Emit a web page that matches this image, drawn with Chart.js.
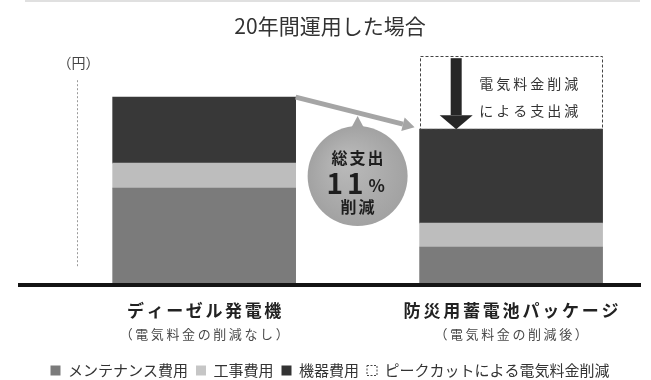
<!DOCTYPE html>
<html lang="ja">
<head>
<meta charset="utf-8">
<script src="https://cdn.jsdelivr.net/npm/chart.js@4"></script>
<style>
  html, body { margin: 0; padding: 0; background: #ffffff; }
  canvas { display: block; }
</style>
</head>
<body>
<canvas id="chart" width="651" height="380"></canvas>
<script>
// 20年間のコスト比較（概念図・単位は任意）
const categories = ['ディーゼル発電機', '防災用蓄電池パッケージ'];
const subLabels = ['（電気料金の削減なし）', '（電気料金の削減後）'];
const seriesNames = ['メンテナンス費用', '工事費用', '機器費用', 'ピークカットによる電気料金削減'];
const maintenance = [97, 38];
const construction = [25, 24];
const equipment = [66, 94];
const peakCut = [0, 73];

const FONT = '"Noto Sans CJK JP", "Noto Sans", sans-serif';
Chart.defaults.font.family = FONT;
Chart.defaults.color = '#333';

const colors = ['#7b7b7b', '#bdbdbd', '#383838', 'rgba(255,255,255,0)'];
const legendFill = ['#7b7b7b', '#c6c6c6', '#333333', '#ffffff'];

const toPoints = arr => arr.map((v, i) => ({ x: i, y: v }));
const seriesData = [maintenance, construction, equipment, peakCut];

function spacedText(ctx, text, x, y, spacing) {
  ctx.letterSpacing = spacing + 'px';
  ctx.fillText(text, x + spacing / 2, y);
  ctx.letterSpacing = '0px';
}

const decor = {
  id: 'decor',
  beforeDraw(chart) {
    const { ctx } = chart;
    ctx.save();
    ctx.strokeStyle = '#d6d6d6';
    ctx.lineWidth = 1.5;
    ctx.beginPath();
    ctx.moveTo(25, 1);
    ctx.lineTo(640, 1);
    ctx.stroke();
    ctx.restore();
  },
  afterDatasetsDraw(chart) {
    const { ctx, chartArea } = chart;
    const leftTop = chart.getDatasetMeta(2).data[0];
    const rightTop = chart.getDatasetMeta(2).data[1];
    const cut = chart.getDatasetMeta(3).data[1];

    ctx.save();

    // 縦軸の点線と単位
    const gx = Math.round(leftTop.x - leftTop.width / 2 - 36) + 0.5;
    ctx.strokeStyle = '#9a9a9a';
    ctx.lineWidth = 1;
    ctx.setLineDash([2, 2]);
    ctx.beginPath();
    ctx.moveTo(gx, chartArea.top + 30);
    ctx.lineTo(gx, chartArea.bottom - 18);
    ctx.stroke();
    ctx.setLineDash([]);
    ctx.fillStyle = '#444';
    ctx.font = '14px ' + FONT;
    ctx.textAlign = 'center';
    ctx.textBaseline = 'middle';
    ctx.fillText('（円）', gx + 1, chartArea.top + 12);

    // ピークカット分の点線枠
    const cl = cut.x - cut.width / 2;
    ctx.strokeStyle = '#444';
    ctx.lineWidth = 1;
    ctx.setLineDash([3, 2]);
    ctx.strokeRect(Math.round(cl) + 0.5, Math.round(cut.y) + 0.5, Math.round(cut.width) - 1, cut.base - cut.y);
    ctx.setLineDash([]);

    // 下向き矢印
    const ax = cl + cut.width * 0.2;
    const headH = 14;
    ctx.fillStyle = '#262626';
    ctx.fillRect(ax - 5.5, cut.y + 2, 11, cut.base - cut.y - 2 - headH);
    ctx.beginPath();
    ctx.moveTo(ax - 16.5, cut.base - headH);
    ctx.lineTo(ax + 16.5, cut.base - headH);
    ctx.lineTo(ax, cut.base);
    ctx.closePath();
    ctx.fill();

    // 枠内の説明
    const tx = cl + cut.width * 0.596;
    ctx.fillStyle = '#333';
    ctx.font = '14px ' + FONT;
    spacedText(ctx, '電気料金削減', tx, cut.y + 27, 3);
    spacedText(ctx, 'による支出減', tx, cut.y + 54, 3);

    // 左の棒から右の棒へ向かう矢印
    const sx = leftTop.x + leftTop.width / 2, sy = leftTop.y;
    const ex = rightTop.x - rightTop.width / 2 - 5, ey = rightTop.y - 2;
    const ang = Math.atan2(ey - sy, ex - sx);
    const hl = 12, hw = 7;
    const bx = ex - hl * Math.cos(ang), by = ey - hl * Math.sin(ang);
    ctx.strokeStyle = '#a5a5a5';
    ctx.fillStyle = '#a5a5a5';
    ctx.lineWidth = 5;
    ctx.beginPath();
    ctx.moveTo(sx, sy);
    ctx.lineTo(bx, by);
    ctx.stroke();
    ctx.beginPath();
    ctx.moveTo(ex, ey);
    ctx.lineTo(bx + hw * Math.sin(ang), by - hw * Math.cos(ang));
    ctx.lineTo(bx - hw * Math.sin(ang), by + hw * Math.cos(ang));
    ctx.closePath();
    ctx.fill();

    // 削減率の吹き出し
    const cx = (sx + rightTop.x - rightTop.width / 2) / 2;
    const cy = (rightTop.y + rightTop.base) / 2;
    const r = 50;
    const grad = ctx.createRadialGradient(cx - 12, cy - 15, 5, cx, cy, r);
    grad.addColorStop(0, '#b9b9b9');
    grad.addColorStop(1, '#a2a2a2');
    ctx.fillStyle = grad;
    ctx.beginPath();
    ctx.moveTo(cx - 7, cy - r + 3);
    ctx.lineTo(cx, cy - r - 10);
    ctx.lineTo(cx + 7, cy - r + 3);
    ctx.closePath();
    ctx.fill();
    ctx.beginPath();
    ctx.arc(cx, cy, r, 0, Math.PI * 2);
    ctx.fill();

    ctx.fillStyle = '#1e1e1e';
    ctx.font = 'bold 16px ' + FONT;
    spacedText(ctx, '総支出', cx, cy - 18, 2);
    ctx.font = 'bold 28px ' + FONT;
    ctx.textAlign = 'right';
    ctx.letterSpacing = '4px';
    ctx.fillText('11', cx + 10, cy + 7);
    ctx.letterSpacing = '0px';
    ctx.textAlign = 'left';
    ctx.font = 'bold 17px ' + FONT;
    ctx.fillText('%', cx + 11, cy + 9);
    ctx.textAlign = 'center';
    ctx.font = 'bold 16px ' + FONT;
    spacedText(ctx, '削減', cx, cy + 31, 2);

    ctx.restore();
  },
  afterDraw(chart) {
    const { ctx, chartArea } = chart;
    const xs = chart.scales.x;
    ctx.save();
    ctx.textAlign = 'center';
    ctx.textBaseline = 'middle';
    categories.forEach((name, i) => {
      const px = xs.getPixelForValue(i);
      ctx.fillStyle = '#222';
      ctx.font = 'bold 17px ' + FONT;
      spacedText(ctx, name, px, chartArea.bottom + 26, i === 0 ? 2.6 : 2.8);
      ctx.fillStyle = '#4a4a4a';
      ctx.font = '13px ' + FONT;
      spacedText(ctx, subLabels[i], px, chartArea.bottom + 49, 2.6);
    });
    ctx.restore();
  }
};

new Chart(document.getElementById('chart'), {
  type: 'bar',
  data: {
    datasets: seriesNames.map((name, i) => ({
      label: name,
      data: toPoints(seriesData[i]),
      backgroundColor: colors[i],
      borderWidth: 0,
      barThickness: 183
    }))
  },
  options: {
    responsive: false,
    animation: false,
    events: [],
    layout: { padding: { left: 20, right: 11, top: 0, bottom: -8 } },
    scales: {
      x: {
        type: 'linear',
        stacked: true,
        offset: false,
        min: -0.6,
        max: 1.42,
        grid: { display: false },
        ticks: { display: false },
        border: { display: true, color: '#141414', width: 4, z: 1 },
        afterFit: s => { s.height = 70; }
      },
      y: { stacked: true, min: 0, max: 235, display: false }
    },
    plugins: {
      title: {
        display: true,
        text: '20年間運用した場合',
        color: '#333',
        font: { size: 21, weight: 'normal' },
        padding: { top: 13, bottom: 12 }
      },
      legend: {
        position: 'bottom',
        labels: {
          boxWidth: 10,
          boxHeight: 10,
          padding: 8,
          color: '#333',
          font: { size: 15 },
          generateLabels: chart => chart.data.datasets.map((ds, i) => ({
            text: ds.label,
            fillStyle: legendFill[i],
            strokeStyle: '#444',
            lineWidth: i === 3 ? 1 : 0,
            lineDash: i === 3 ? [2, 1.5] : [],
            fontColor: '#333',
            hidden: false,
            datasetIndex: i
          }))
        }
      },
      tooltip: { enabled: false }
    }
  },
  plugins: [decor]
});
</script>
</body>
</html>
